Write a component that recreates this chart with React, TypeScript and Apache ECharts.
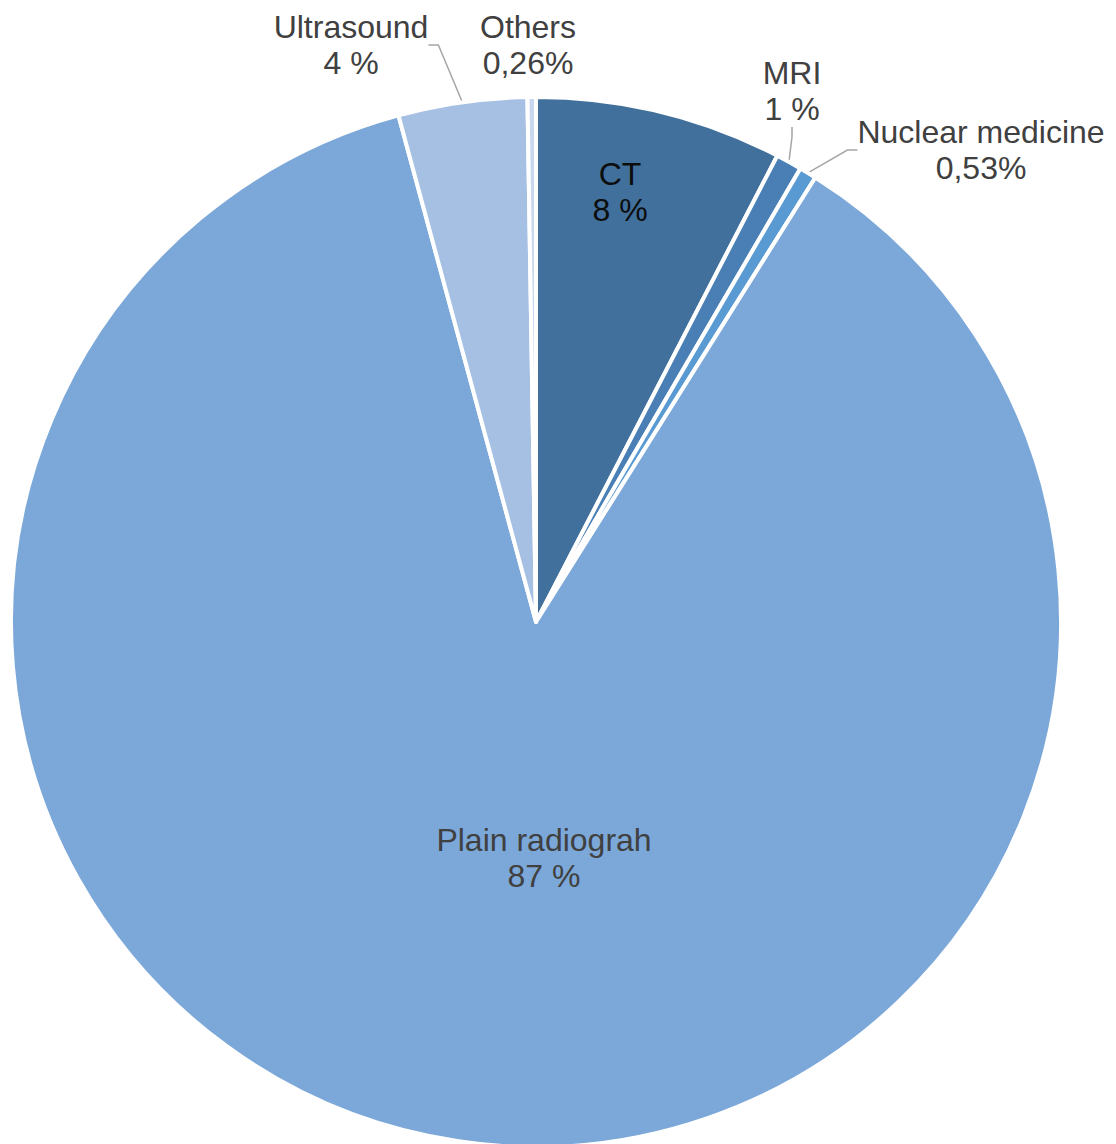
import React, { useEffect, useRef } from "react";
import * as echarts from "echarts";

const categories = ["CT", "MRI", "Nuclear medicine", "Plain radiograh", "Ultrasound", "Others"];
const values = [7.6, 0.8, 0.53, 86.85, 3.96, 0.26];
const valueLabels = ["8 %", "1 %", "0,53%", "87 %", "4 %", "0,26%"];
const colors = ["#41709C", "#4A7FB5", "#5A9AD3", "#7CA8D9", "#A6C0E3", "#C9D8EE"];
const labelColors = ["#0D0D0D", "#404040", "#404040", "#404040", "#404040", "#404040"];
const showLeader = [false, true, true, false, true, false];

// label centres (layout only)
const labelPos = [
  [620, 192],
  [792, 91],
  [981, 150],
  [544, 858],
  [351, 45],
  [528, 45],
];

export default function App() {
  const ref = useRef<HTMLDivElement>(null);
  useEffect(() => {
    if (!ref.current) return;
    const chart = echarts.init(ref.current, undefined, { renderer: "svg" });
    chart.setOption({
      animation: false,
      backgroundColor: "#ffffff",
      series: [
        {
          type: "pie",
          center: [536, 622],
          radius: [0, 525],
          startAngle: 90,
          clockwise: true,
          avoidLabelOverlap: false,
          itemStyle: { borderColor: "#ffffff", borderWidth: 4 },
          label: {
            show: true,
            position: "outside",
            fontFamily: "Liberation Sans, Arial, sans-serif",
            fontSize: 32,
            lineHeight: 36,
            align: "center",
            formatter: (p: any) => `${p.name}\n${valueLabels[p.dataIndex]}`,
          },
          labelLine: {
            show: true,
            length: 10,
            length2: 10,
            smooth: false,
            lineStyle: { color: "#A6A6A6", width: 1.5 },
          },
          labelLayout: (p: any) => ({
            x: labelPos[p.dataIndex][0],
            y: labelPos[p.dataIndex][1],
            align: "center",
            verticalAlign: "middle",
          }),
          data: categories.map((name, i) => ({
            name,
            value: values[i],
            itemStyle: { color: colors[i] },
            label: { color: labelColors[i] },
            labelLine: { show: showLeader[i] },
          })),
        },
      ],
    });
    return () => chart.dispose();
  }, []);
  return (
    <div
      ref={ref}
      style={{ position: "fixed", left: 0, top: 0, width: 1116, height: 1144, background: "#fff" }}
    />
  );
}
